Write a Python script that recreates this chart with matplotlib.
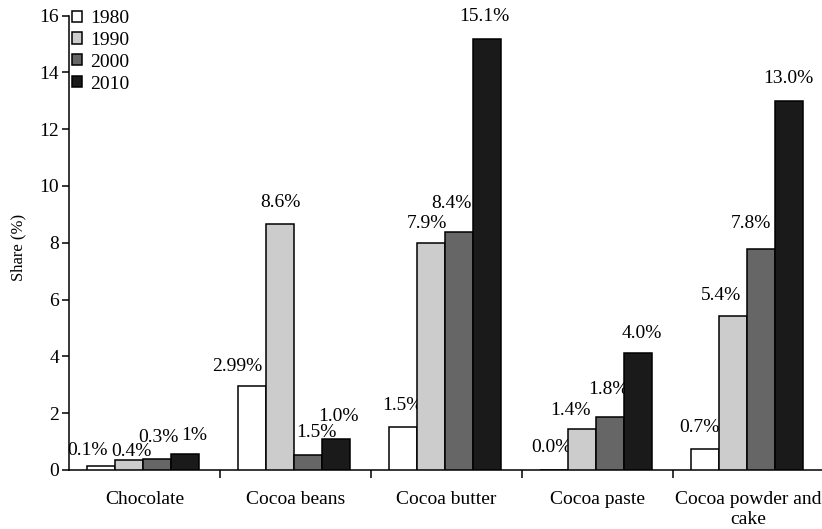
import matplotlib
matplotlib.use("Agg")
import matplotlib.pyplot as plt
import numpy as np

categories = ["Chocolate", "Cocoa beans", "Cocoa butter", "Cocoa paste", "Cocoa powder and\ncake"]
years = ["1980", "1990", "2000", "2010"]
v1980 = [0.14, 2.94, 1.52, 0.0, 0.73]
v1990 = [0.36, 8.67, 7.99, 1.46, 5.42]
v2000 = [0.38, 0.53, 8.38, 1.87, 7.79]
v2010 = [0.56, 1.09, 15.18, 4.12, 12.98]
lab1980 = ["0.1%", "2.99%", "1.5%", "0.0%", "0.7%"]
lab1990 = ["0.4%", "8.6%", "7.9%", "1.4%", "5.4%"]
lab2000 = ["0.3%", "1.5%", "8.4%", "1.8%", "7.8%"]
lab2010 = ["1%", "1.0%", "15.1%", "4.0%", "13.0%"]
yticks = [0, 2, 4, 6, 8, 10, 12, 14, 16]

values = [v1980, v1990, v2000, v2010]
labels = [lab1980, lab1990, lab2000, lab2010]
colors = ["#ffffff", "#cccccc", "#666666", "#1a1a1a"]
# label offsets (pixels) relative to bar top-centre (style only)
dx = [[-13, -14, 0, -2, -5],
      [3, 1, -4, -11, -12],
      [1, 8, -8, -2, -10],
      [9, 2, -3, 3, -1]]
dy = [[16, 20, 21, 23, 22],
      [8, 21, 20, 18, 21],
      [22, 22, 28, 27, 25],
      [19, 23, 22, 19, 23]]

plt.rcParams['font.family'] = ['Liberation Serif', 'DejaVu Serif']

fig = plt.figure(figsize=(8.22, 5.29), dpi=100)
ax = fig.add_axes([69/822, 59/529, 755/822, 454.5/529])

x = np.arange(len(categories))
w = 0.187
for i, (vals, labs) in enumerate(zip(values, labels)):
    pos = x - 0.01 + (i - 1.5) * w
    ax.bar(pos, vals, width=w, color=colors[i], edgecolor="black",
           linewidth=1.1, label=years[i], zorder=3)
    for j, (p, v, t) in enumerate(zip(pos, vals, labs)):
        ax.annotate(t, (p, v), xytext=(dx[i][j], dy[i][j]),
                    textcoords="offset pixels", ha="center", va="center",
                    fontsize=14, zorder=2)

ax.set_xlim(-0.5, 4.5)
ax.set_ylim(0, 16)
ax.set_yticks(yticks)
ax.set_xticks(x)
ax.set_xticklabels(categories, fontsize=14, linespacing=1.25)
ax.set_xticks(np.arange(0.5, 4.0, 1.0), minor=True)
ax.tick_params(axis="x", which="major", length=0, pad=15)
ax.tick_params(axis="x", which="minor", length=6, width=1.1, direction="out")
ax.tick_params(axis="y", length=5, width=1.1, labelsize=14, pad=2)
for s in ["top", "right"]:
    ax.spines[s].set_visible(False)
for s in ["left", "bottom"]:
    ax.spines[s].set_linewidth(1.1)
ax.set_ylabel("Share (%)", fontsize=12)
ax.yaxis.set_label_coords(-0.056, 0.49)

leg = ax.legend(loc="upper left", bbox_to_anchor=(0.004, 1.012), frameon=False,
                fontsize=14, handlelength=0.5, handleheight=0.5,
                handletextpad=0.45, labelspacing=0.25, borderpad=0,
                borderaxespad=0)

fig.savefig("out.png", dpi=100)
